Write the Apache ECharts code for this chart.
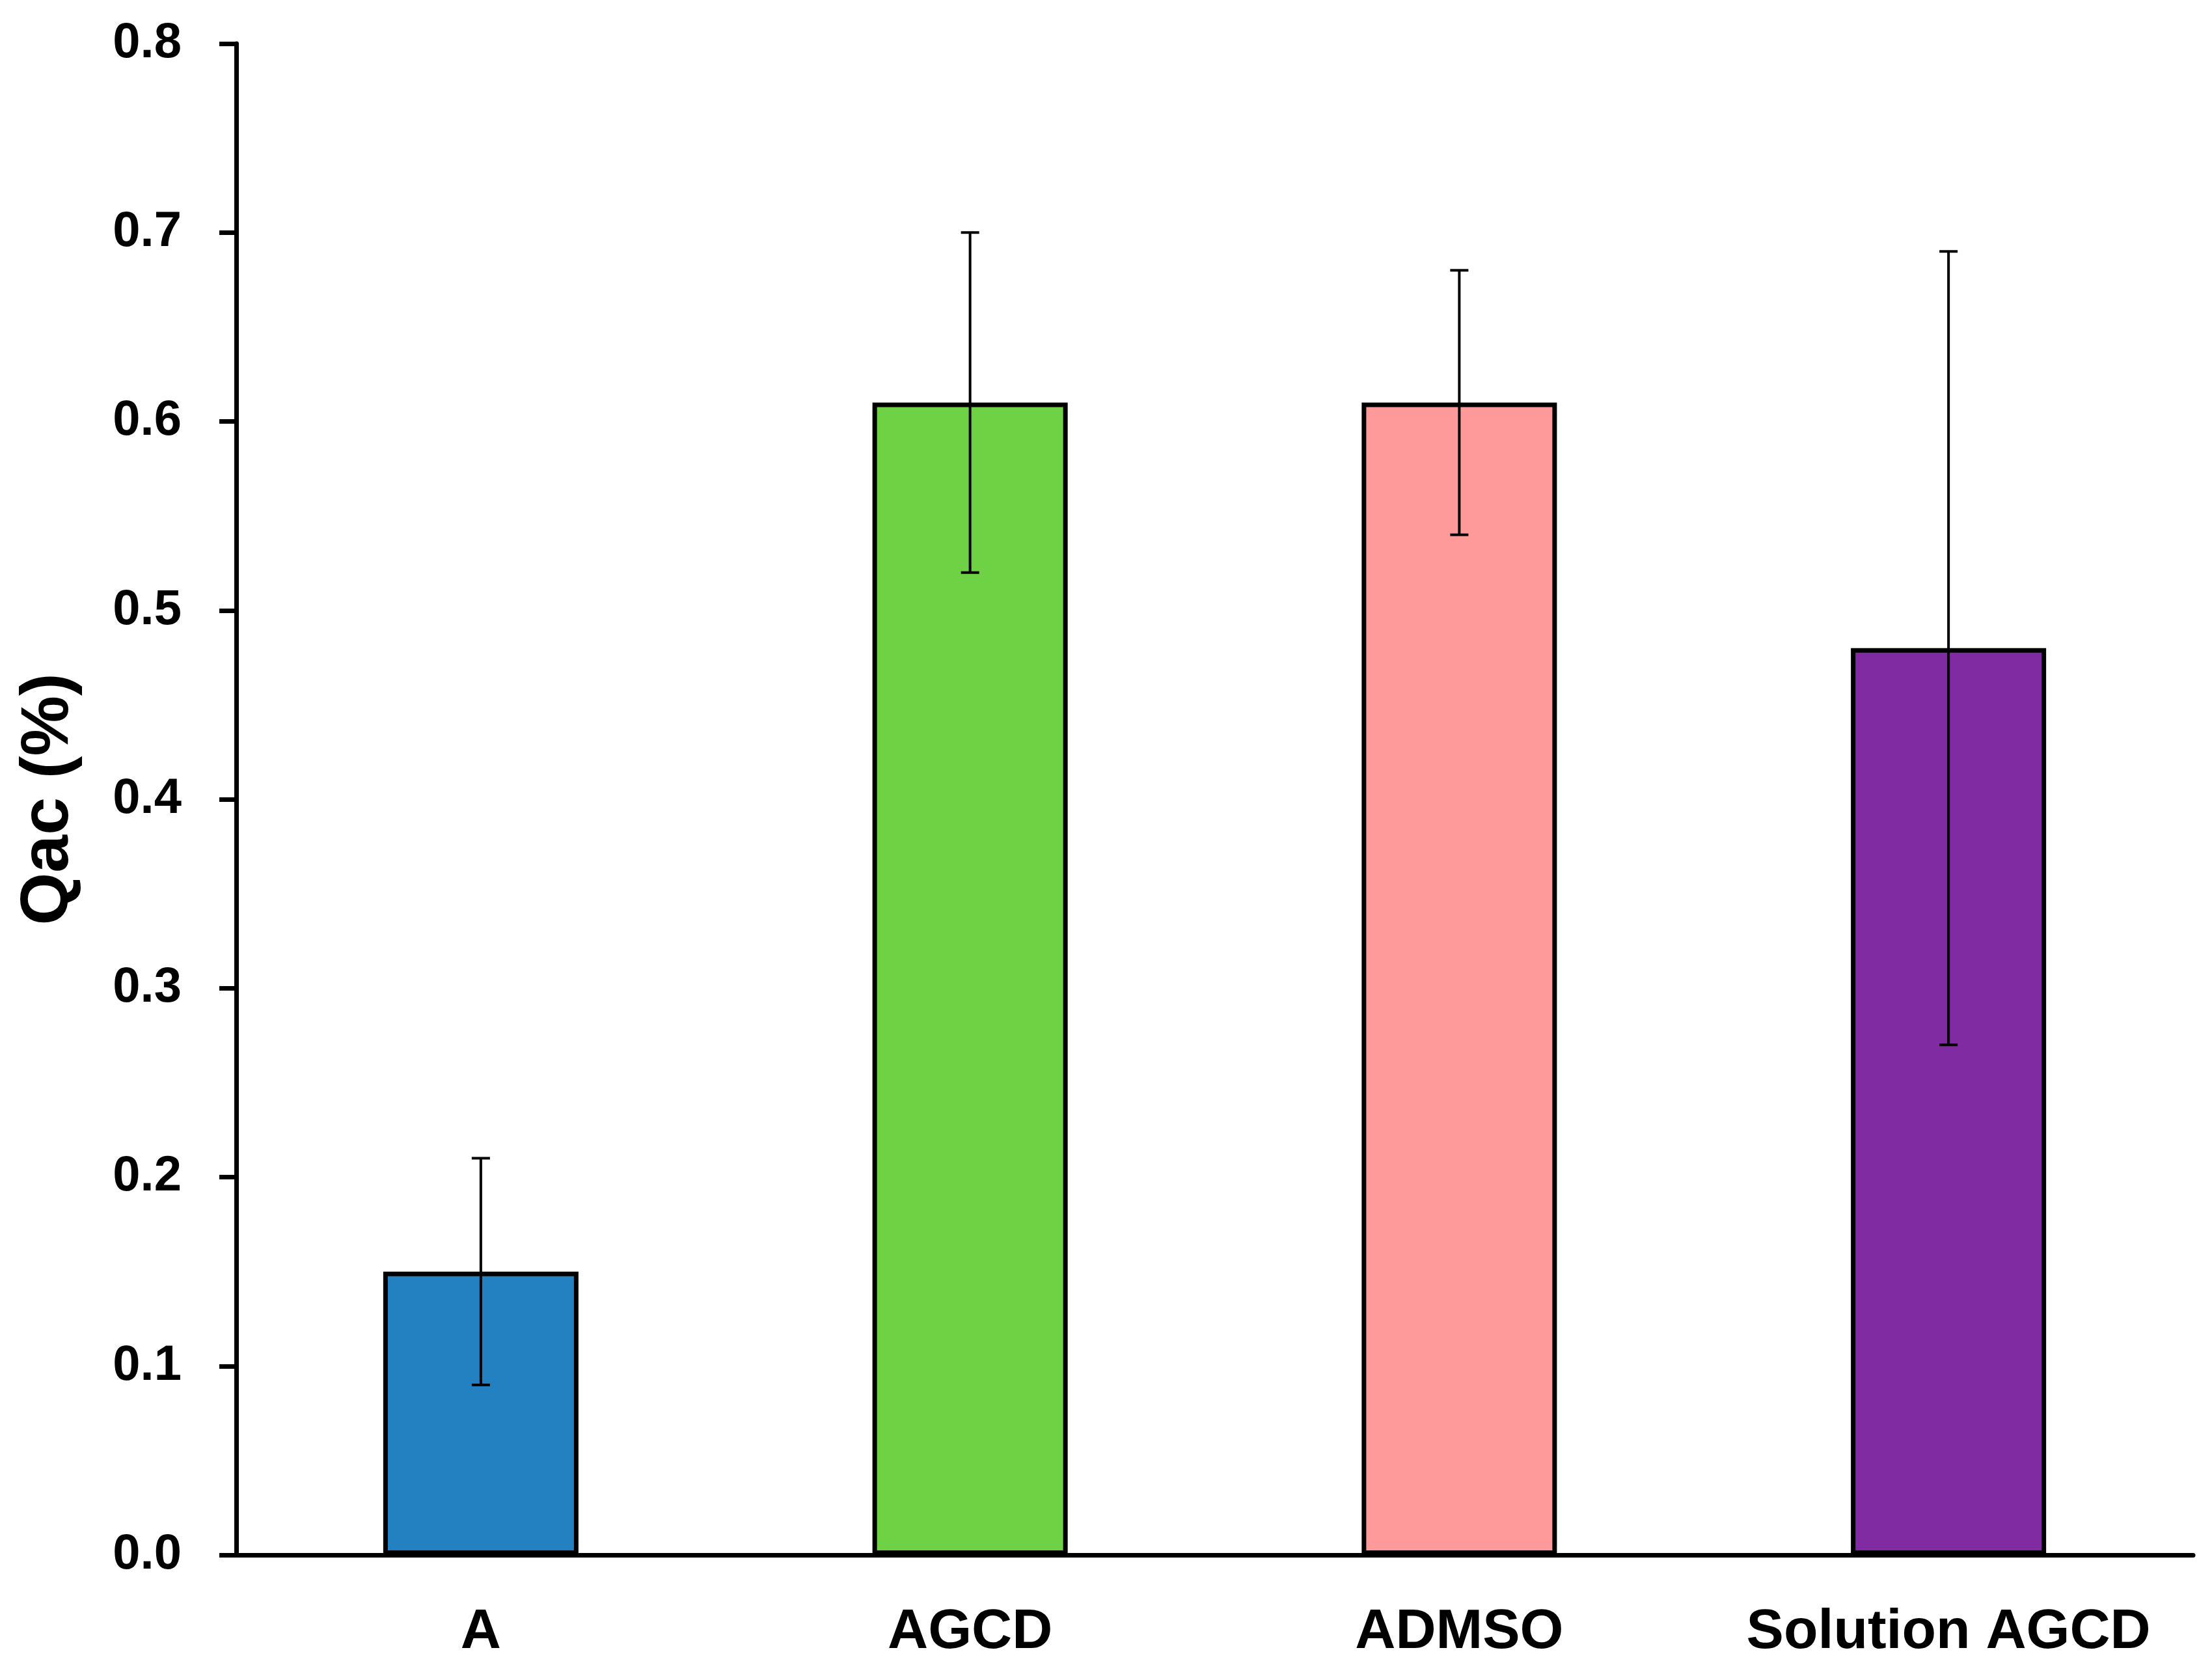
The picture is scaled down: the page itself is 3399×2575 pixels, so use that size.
<!doctype html>
<html>
    <head>
        <meta charset="utf-8">
        <title>Qac bar chart</title>
        <style>
            html, body { margin: 0; padding: 0; background: #fff; }
            #main { width: 3399px; height: 2575px; }
        </style>
    </head>
    <body>
        <div id="main"></div>
        <script src="https://cdn.jsdelivr.net/npm/echarts@6/dist/echarts.min.js"></script>

        <script>

            // data
            var categories = ['A', 'AGCD', 'ADMSO', 'Solution AGCD'];
            var qacValues = [0.15, 0.61, 0.61, 0.48];
            var errUpper = [0.21, 0.70, 0.68, 0.69];
            var errLower = [0.09, 0.52, 0.54, 0.27];
            var barColors = ['#2481C1', '#6FD244', '#FF9A9A', '#812BA3'];

            var myChart = echarts.init(document.getElementById('main'));
            var fontFam = '"Liberation Sans", Arial, sans-serif';

            var barData = qacValues.map(function (v, i) {
                return { value: v, itemStyle: { color: barColors[i] } };
            });
            var errData = categories.map(function (c, i) {
                return [i, errLower[i], errUpper[i]];
            });

            var option = {
                backgroundColor: '#fff',
                animation: false,
                grid: {
                    left: 363,
                    right: 29,
                    top: 67,
                    bottom: 186
                },
                xAxis: {
                    type: 'category',
                    data: categories,
                    axisLine: { lineStyle: { color: '#000', width: 7 } },
                    axisTick: { show: false },
                    axisLabel: {
                        interval: 0,
                        color: '#000',
                        fontFamily: fontFam,
                        fontWeight: 'bold',
                        fontSize: 86,
                        margin: 76
                    }
                },
                yAxis: {
                    type: 'value',
                    min: 0,
                    max: 0.8,
                    interval: 0.1,
                    name: 'Qac (%)',
                    nameLocation: 'middle',
                    nameRotate: 90,
                    nameGap: 236,
                    nameTextStyle: {
                        color: '#000',
                        fontFamily: fontFam,
                        fontWeight: 'bold',
                        fontSize: 104
                    },
                    splitLine: { show: false },
                    axisLine: { show: true, lineStyle: { color: '#000', width: 7 } },
                    axisTick: { show: true, length: 26, lineStyle: { color: '#000', width: 7 } },
                    axisLabel: {
                        color: '#000',
                        fontFamily: fontFam,
                        fontWeight: 'bold',
                        fontSize: 76,
                        margin: 84,
                        formatter: function (v) { return v.toFixed(1); }
                    }
                },
                series: [{
                    type: 'bar',
                    data: barData,
                    barWidth: 300,
                    itemStyle: {
                        borderColor: '#000',
                        borderWidth: 7
                    },
                    z: 2
                }, {
                    type: 'custom',
                    data: errData,
                    z: 5,
                    renderItem: function (params, api) {
                        var lo = api.coord([api.value(0), api.value(1)]);
                        var hi = api.coord([api.value(0), api.value(2)]);
                        var cap = 14;
                        var st = { stroke: '#000', lineWidth: 4 };
                        return {
                            type: 'group',
                            children: [
                                { type: 'line', shape: { x1: hi[0], y1: hi[1], x2: lo[0], y2: lo[1] }, style: st },
                                { type: 'line', shape: { x1: hi[0] - cap, y1: hi[1], x2: hi[0] + cap, y2: hi[1] }, style: st },
                                { type: 'line', shape: { x1: lo[0] - cap, y1: lo[1], x2: lo[0] + cap, y2: lo[1] }, style: st }
                            ]
                        };
                    }
                }]
            };

            myChart.setOption(option);

        </script>
    </body>
</html>
